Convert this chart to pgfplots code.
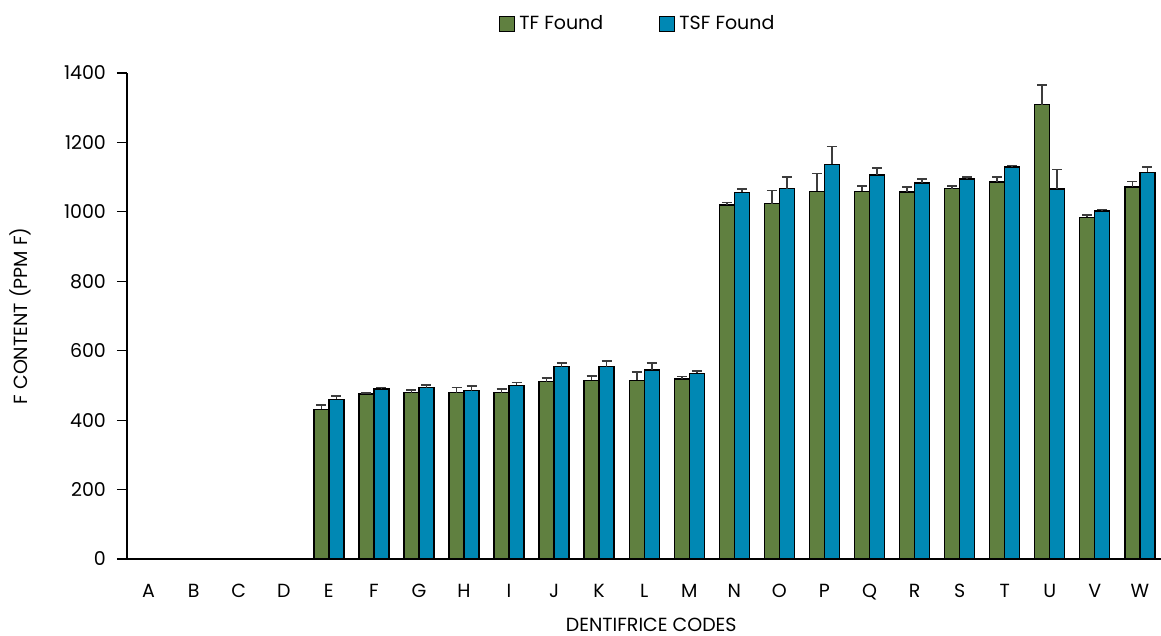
\documentclass[border=0pt]{standalone}
\usepackage{pgfplots}
\usepackage{pgfplotstable}
\pgfplotsset{compat=1.18}
\usepackage{fontspec}
\setmainfont{Poppins}

\definecolor{tfgreen}{RGB}{96,128,64}
\definecolor{tsfblue}{RGB}{0,136,180}
\definecolor{errgray}{RGB}{60,60,60}

% code: 0=A ... 22=W ; A-D have no bars
\pgfplotstableread{
x  tf   tfe  tsf  tsfe
4  431  13   460  10
5  475  4    490  4
6  479  7    494  7
7  479  15   485  13
8  479  11   500  9
9  511  11   554  11
10 515  13   554  16
11 515  23   544  20
12 518  8    535  6
13 1020 7    1056 10
14 1024 37   1067 34
15 1059 51   1137 51
16 1059 15   1106 20
17 1057 14   1083 11
18 1067 7    1095 6
19 1086 15   1129 4
20 1309 57   1066 56
21 984  7    1003 4
22 1072 15   1114 15
}\dentdata

\begin{document}
\begin{tikzpicture}
\useasboundingbox (-63.5pt,-38.5pt) rectangle (517pt,279.5pt);
\begin{axis}[
  scale only axis, width=517pt, height=243pt,
  ybar=0pt, bar width=7.5pt,
  xmin=-0.48, xmax=22.47, ymin=0, ymax=1400,
  axis x line*=bottom, axis y line*=left,
  axis line style={black, line width=0.6pt},
  xtick={0,...,22},
  xticklabels={A,B,C,D,E,F,G,H,I,J,K,L,M,N,O,P,Q,R,S,T,U,V,W},
  x tick style={draw=none},
  ytick={0,200,...,1400},
  tick align=outside, major tick length=5pt,
  y tick style={black, line width=0.6pt},
  /pgf/number format/assume math mode=true,
  /pgf/number format/1000 sep={},
  ticklabel style={font=\fontsize{9.5}{11}\selectfont},
  xticklabel style={yshift=-4pt},
  yticklabel style={xshift=-2pt},
  ylabel={F CONTENT (PPM F)}, xlabel={DENTIFRICE CODES},
  label style={font=\fontsize{9.5}{11}\selectfont},
  ylabel style={at={(axis description cs:-0.1035,0.5)}, anchor=center},
  xlabel style={at={(axis description cs:0.507,-0.136)}, anchor=center},
  legend columns=2,
  legend style={at={(0.495,1.1)}, anchor=center, draw=none, fill=none,
    font=\fontsize{9.5}{11}\selectfont,
    /tikz/every even column/.append style={column sep=26pt}},
  legend image code/.code={\draw[#1, line width=0.6pt] (0pt,-3.75pt) rectangle (7.5pt,3.75pt);},
  error bars/y dir=plus, error bars/y explicit,
  error bars/error bar style={errgray, line width=0.8pt},
  error bars/error mark options={errgray, line width=0.8pt, mark size=2.5pt, rotate=90},
]
\addplot[fill=tfgreen, draw=black, line width=0.7pt] table[x=x, y=tf, y error=tfe] {\dentdata};
\addplot[fill=tsfblue, draw=black, line width=0.7pt] table[x=x, y=tsf, y error=tsfe] {\dentdata};
\legend{TF Found, TSF Found}
\end{axis}
\end{tikzpicture}
\end{document}
